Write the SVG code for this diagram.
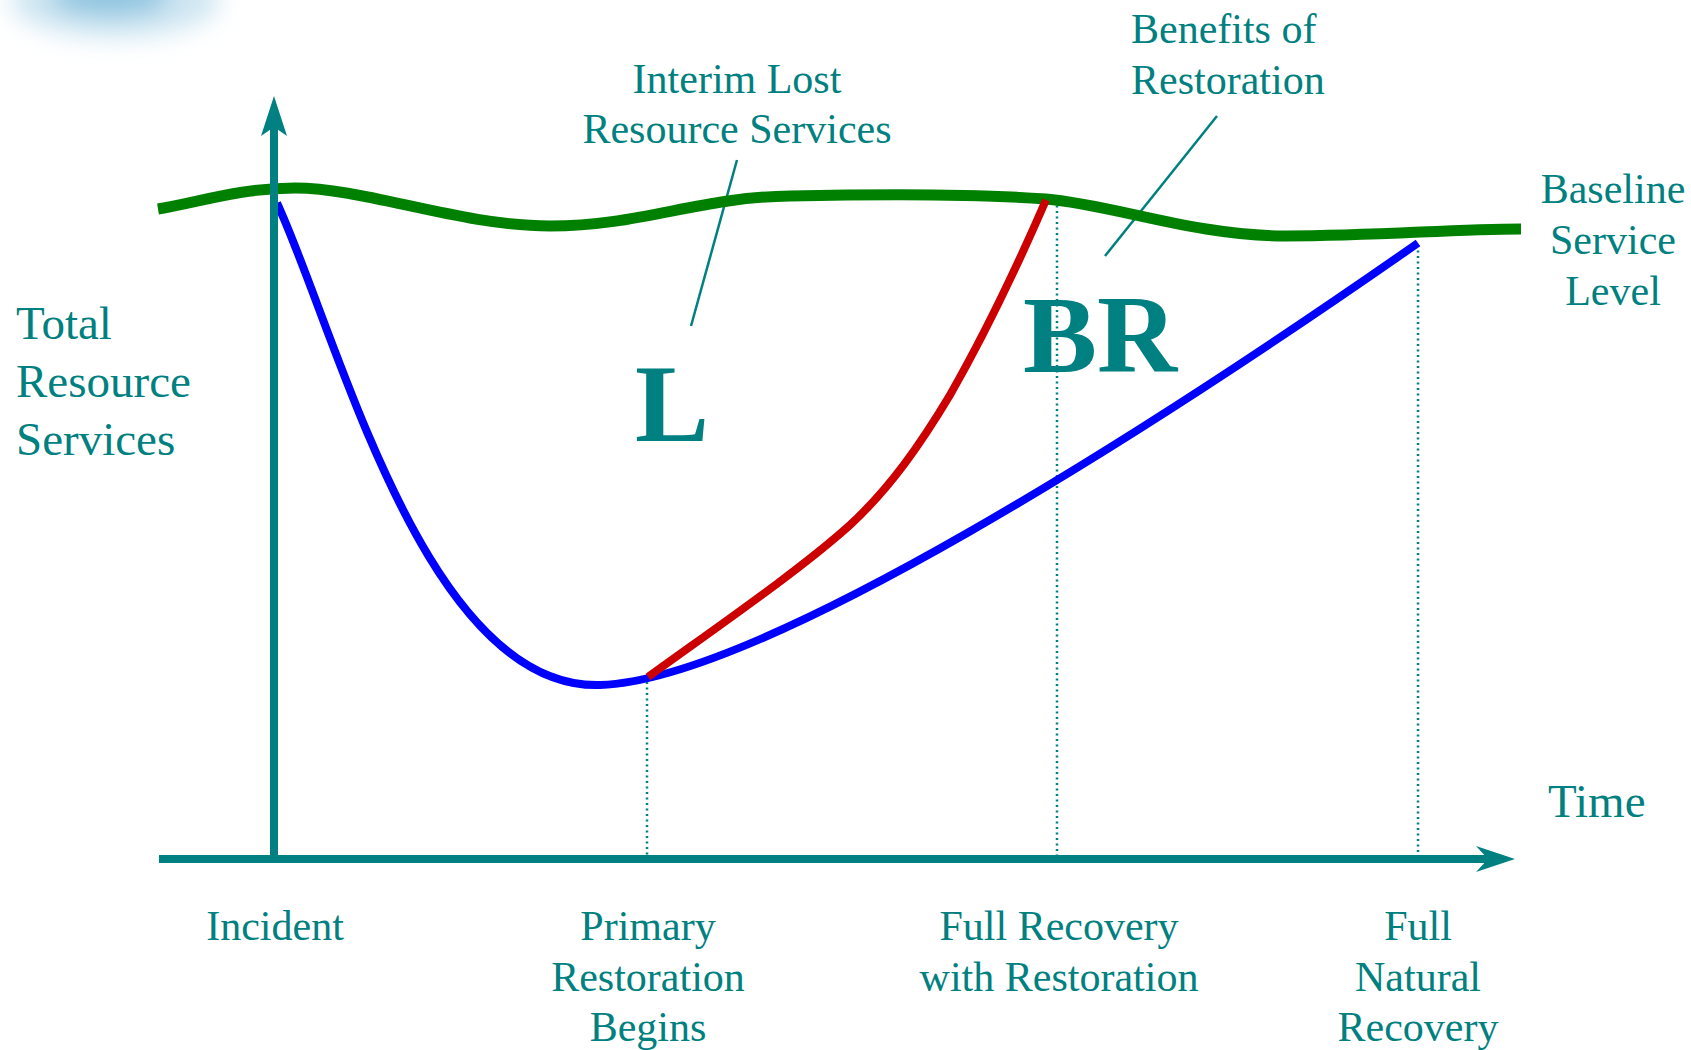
<svg xmlns="http://www.w3.org/2000/svg" width="1691" height="1050" viewBox="0 0 1691 1050">
<style>
.t{font-family:"Liberation Serif","Times New Roman",serif;fill:#008080;font-size:42px}
.big{font-family:"Liberation Serif","Times New Roman",serif;fill:#008080;font-size:111px;font-weight:bold}
.axis{stroke:#008080;stroke-width:8;fill:none}
.dot{stroke:#008080;stroke-width:2.5;stroke-dasharray:2 3.5;fill:none}
.lead{stroke:#008080;stroke-width:2.5;fill:none}
</style>
<defs>
<filter id="blur" x="-50%" y="-50%" width="200%" height="200%"><feGaussianBlur stdDeviation="12"/></filter>
</defs>
<rect width="1691" height="1050" fill="#ffffff"/>
<g id="cloud" filter="url(#blur)">
<ellipse cx="115" cy="0" rx="105" ry="38" fill="#cfe6f2"/>
<ellipse cx="110" cy="-4" rx="60" ry="20" fill="#8ec5e0"/>
</g>
<g id="connectors">
<line class="dot" x1="647" y1="682" x2="647" y2="857"/>
<line class="dot" x1="1057" y1="200" x2="1057" y2="857"/>
<line class="dot" x1="1418" y1="245" x2="1418" y2="857"/>
<line class="lead" x1="737" y1="160" x2="691" y2="326"/>
<line class="lead" x1="1217" y1="116" x2="1105" y2="256"/>
<path d="M158,209 C200,202 240,188 295,188 C365,188 460,226 550,226 C640,226 700,197 790,196 C880,194 980,194 1046,199 C1110,204 1195,236 1285,236 C1380,236 1450,229 1521,229" stroke="#008000" stroke-width="11" fill="none"/>
<path d="M277,203 C338,335 425,690 600,685 C760,680 1150,430 1418,243" stroke="#0000ff" stroke-width="8" fill="none"/>
<path d="M648,677 C720,625 800,570 850,525 C890,488 920,445 950,395 C990,325 1020,260 1046,200" stroke="#cc0000" stroke-width="8" fill="none"/>
<line class="axis" x1="274" y1="861" x2="274" y2="126"/>
<polygon points="274,96 287,136 274,127 261,136" fill="#008080"/>
<line class="axis" x1="159" y1="859" x2="1490" y2="859"/>
<polygon points="1515,859 1476,846 1488,859 1476,872" fill="#008080"/>
</g>
<g id="label-total"><text class="t" style="font-size:47px" x="16" y="339">Total</text><text class="t" style="font-size:47px" x="16" y="397">Resource</text><text class="t" style="font-size:47px" x="16" y="455">Services</text></g>
<g id="label-interim"><text class="t" x="737" y="93" text-anchor="middle">Interim Lost</text><text class="t" x="737" y="143" text-anchor="middle">Resource Services</text></g>
<g id="label-benefits"><text class="t" x="1131" y="43">Benefits of</text><text class="t" x="1131" y="94">Restoration</text></g>
<g id="label-baseline"><text class="t" x="1613" y="203" text-anchor="middle">Baseline</text><text class="t" x="1613" y="254" text-anchor="middle">Service</text><text class="t" x="1613" y="305" text-anchor="middle">Level</text></g>
<g id="label-L"><text class="big" x="672" y="441" text-anchor="middle">L</text></g>
<g id="label-BR"><text class="big" x="1100" y="372" text-anchor="middle">BR</text></g>
<g id="label-time"><text class="t" style="font-size:47px" x="1548" y="817">Time</text></g>
<g id="label-incident"><text class="t" x="275" y="940" text-anchor="middle">Incident</text></g>
<g id="label-primary"><text class="t" x="648" y="940" text-anchor="middle">Primary</text><text class="t" x="648" y="991" text-anchor="middle">Restoration</text><text class="t" x="648" y="1041" text-anchor="middle">Begins</text></g>
<g id="label-fullrec"><text class="t" x="1059" y="940" text-anchor="middle">Full Recovery</text><text class="t" x="1059" y="991" text-anchor="middle">with Restoration</text></g>
<g id="label-natural"><text class="t" x="1418" y="940" text-anchor="middle">Full</text><text class="t" x="1418" y="991" text-anchor="middle">Natural</text><text class="t" x="1418" y="1041" text-anchor="middle">Recovery</text></g>
</svg>
